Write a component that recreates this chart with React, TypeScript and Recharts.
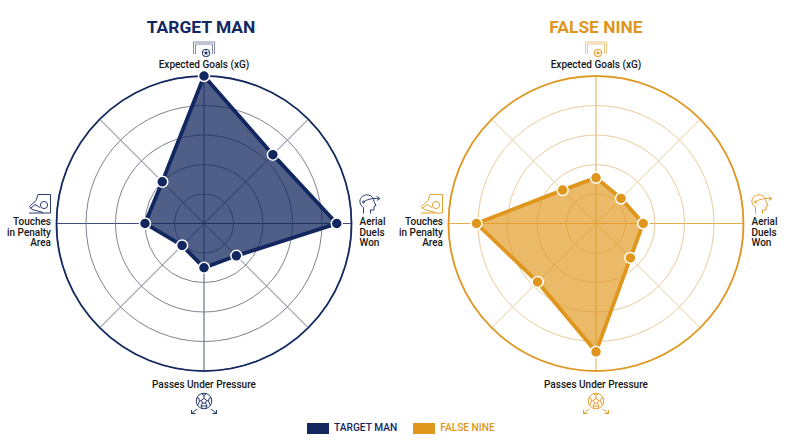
import React from "react";
import { RadarChart, Radar, PolarGrid, PolarAngleAxis, PolarRadiusAxis } from "recharts";

const categories = ["Expected Goals (xG)", "axis2", "Aerial Duels Won", "axis4", "Passes Under Pressure", "axis6", "Touches in Penalty Area", "axis8"];
const targetManValues = [100, 66, 90, 31, 30, 21, 40, 40];
const falseNineValues = [31, 24, 32, 33, 87, 56, 81, 32];
const ringValues = [20, 40, 60, 80];
const seriesNames = ["TARGET MAN", "FALSE NINE"];
const NAVY = "#12275f";
const GOLD = "#e0961c";
const FONT = "Roboto, sans-serif";
const R = 147.5;

function GoalIcon({ c, dx, dy }: any) {
  return (
    <g transform={`translate(${dx},${dy})`} fill="none" stroke={c} strokeWidth={0.9}>
      <path d="M-10.5 12V0H10.5V12" strokeOpacity={0.6} />
      <path d="M-8.5 12V2H8.5V12" strokeOpacity={0.6} />
      <circle cx={2} cy={11} r={3.8} />
      <path d="M2 9.4l1.5 1.1-.6 1.8h-1.8l-.6-1.8z" stroke="none" fill={c} />
      <path d="M2 7.4V9.4M5.6 10L3.5 10.5M4.3 14L2.9 12.3M-0.3 14L1.1 12.3M-1.6 10L0.5 10.5" strokeWidth={0.6} />
    </g>
  );
}
function BootIcon({ c, dx, dy }: any) {
  return (
    <g transform={`translate(${dx},${dy})`} fill="none" stroke={c} strokeWidth={0.9}>
      <path d="M0 18.5H21.5V0H9" />
      <path d="M9 0L7 6L0.5 12L3 15L9 16.5L14 18" />
      <path d="M1.5 14L6 10L11 13" />
      <circle cx={15} cy={10.5} r={3.6} />
    </g>
  );
}
function HeadIcon({ c, dx, dy }: any) {
  return (
    <g transform={`translate(${dx},${dy})`} fill="none" stroke={c} strokeWidth={0.9}>
      <path d="M4 19V13C1 11 0 8 0.5 5.5C1.5 1.5 5.5 0 9 0.5C12.5 1 14.5 4 14.5 7L16.5 11L14.5 12V15.5H11V19" />
      <path d="M4 7.5C7 5 13 3.5 19 4" />
      <path d="M17 1.8L20.5 4L17.5 6" />
      <circle cx={4} cy={7.5} r={1} />
    </g>
  );
}
function PassIcon({ c, dx, dy }: any) {
  return (
    <g transform={`translate(${dx},${dy})`} fill="none" stroke={c} strokeWidth={0.9}>
      <circle cx={0} cy={0} r={7.8} />
      <path d="M0 -2.6L2.5 -0.8L1.6 2.1H-1.6L-2.5 -0.8Z" />
      <path d="M-2.4 -7.2L0 -5.6L2.4 -7.2M0 -5.6V-2.6M7 -3.2L5 -2.6L4.6 0.4L2.5 -0.8M4.6 0.4L6.2 4.4M1.6 2.1L3 5L1.4 7.6M-1.6 2.1L-3 5L-1.4 7.6M-2.5 -0.8L-4.6 0.4L-5 -2.6L-7 -3.2M-4.6 0.4L-6.2 4.4M-3 5H3" />
      <path d="M-7 8L-12.5 12.5M-12.5 9V12.5H-8.5M7 8L12.5 12.5M12.5 9V12.5H8.5" />
    </g>
  );
}

function AxisTick({ payload, x, y, color }: any) {
  const t = { fontFamily: FONT, fontSize: 10, fontWeight: 500, fill: "#161616" } as const;
  const v = payload.value;
  if (v === categories[0]) {
    return (
      <g>
        <GoalIcon c={color} dx={x} dy={y - 26} />
        <text x={x} y={y} textAnchor="middle" {...t}>{v}</text>
      </g>
    );
  }
  if (v === categories[4]) {
    return (
      <g>
        <text x={x} y={y + 8.5} textAnchor="middle" {...t}>{v}</text>
        <PassIcon c={color} dx={x} dy={y + 22} />
      </g>
    );
  }
  if (v === categories[2]) {
    return (
      <g>
        <HeadIcon c={color} dx={x} dy={y - 29} />
        {["Aerial", "Duels", "Won"].map((s, i) => (
          <text key={s} x={x} y={y + 1.5 + i * 10.7} textAnchor="start" {...t}>{s}</text>
        ))}
      </g>
    );
  }
  if (v === categories[6]) {
    return (
      <g>
        <BootIcon c={color} dx={x - 19.5} dy={y - 29} />
        {["Touches", "in Penalty", "Area"].map((s, i) => (
          <text key={s} x={x + 2.5} y={y + 1.5 + i * 10.7} textAnchor="end" {...t}>{s}</text>
        ))}
      </g>
    );
  }
  return null;
}

function Panel({ name, values, color, left, ringColor, spokeColor, hColor, vColor, fillOpacity, titleCenter }: any) {
  const data = categories.map((axis, i) => ({ axis, value: values[i] }));
  return (
    <div style={{ position: "absolute", left, top: 0, width: 400, height: 447 }}>
      <div style={{ position: "absolute", left: titleCenter - 100, width: 200, top: 14, textAlign: "center", fontFamily: FONT, fontWeight: 700, fontSize: 17.4, lineHeight: "26px", color }}>{name}</div>
      <RadarChart width={400} height={447} data={data} cx={204} cy={223.5} outerRadius={R} startAngle={90} endAngle={-270} margin={{ top: 0, right: 0, bottom: 0, left: 0 }}>
        <PolarGrid gridType="circle" polarRadius={[R]} polarAngles={[45, 135, 225, 315]} stroke={spokeColor} strokeWidth={1} />
        <PolarGrid gridType="circle" polarRadius={[R]} polarAngles={[90, 270]} stroke={vColor} strokeWidth={2} />
        <PolarGrid gridType="circle" polarRadius={[R]} polarAngles={[0, 180]} stroke={hColor} strokeWidth={1} />
        <PolarGrid gridType="circle" radialLines={false} polarRadius={ringValues.map((v: number) => (v / 100) * R)} stroke={ringColor} strokeWidth={1} />
        <PolarGrid gridType="circle" radialLines={false} polarRadius={[R]} stroke={color} strokeWidth={1.5} />
        <PolarAngleAxis dataKey="axis" tickLine={false} axisLine={false} tickSize={8} tick={<AxisTick color={color} />} />
        <PolarRadiusAxis domain={[0, 100]} tick={false} axisLine={false} tickCount={6} />
        <Radar dataKey="value" name={name} stroke={color} strokeWidth={3.8} fill={color} fillOpacity={fillOpacity} isAnimationActive={false}
          dot={{ r: 5.5, fill: color, stroke: "#fff", strokeWidth: 1.5, fillOpacity: 1 }} />
      </RadarChart>
    </div>
  );
}

function LegendItem({ name, color, left }: any) {
  return (
    <div style={{ position: "absolute", left, top: 422.5, height: 11.5, display: "flex", alignItems: "center" }}>
      <span style={{ display: "block", width: 22, height: 11.5, background: color, marginRight: 5.5 }} />
      <span style={{ fontFamily: FONT, fontSize: 10.2, fontWeight: 500, color, lineHeight: "12px", whiteSpace: "nowrap" }}>{name}</span>
    </div>
  );
}

export default function App() {
  return (
    <div style={{ position: "absolute", left: 0, top: 0, width: 800, height: 447, background: "#fff", overflow: "hidden" }}>
      <Panel name={seriesNames[0]} values={targetManValues} color={NAVY} left={0} titleCenter={201} ringColor="#80828f" spokeColor="#6f7485" hColor="#3d4a7c" vColor="#a5abbd" fillOpacity={0.74} />
      <Panel name={seriesNames[1]} values={falseNineValues} color={GOLD} left={392} titleCenter={204} ringColor="#e8cc9c" spokeColor="#e8cc9c" hColor="#e7ac50" vColor="#eed4a8" fillOpacity={0.66} />
      <LegendItem name={seriesNames[0]} color={NAVY} left={306.5} />
      <LegendItem name={seriesNames[1]} color={GOLD} left={412.7} />
    </div>
  );
}
